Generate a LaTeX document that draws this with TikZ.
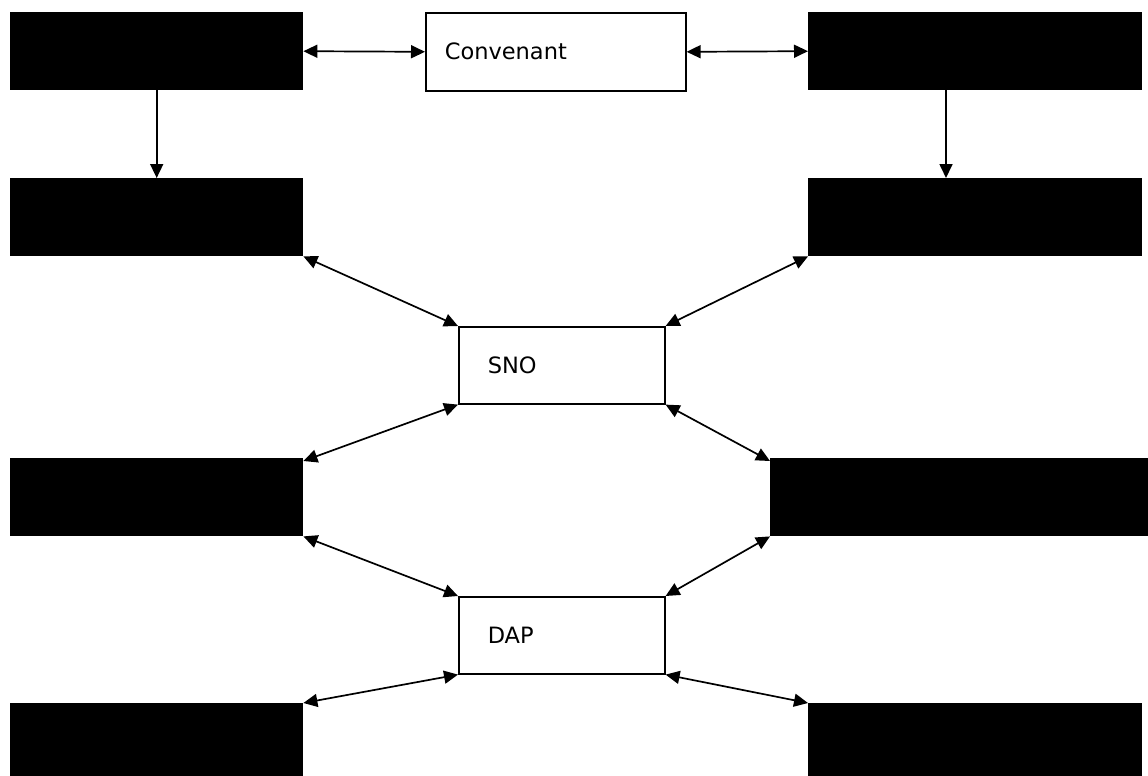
\documentclass[tikz,border=0pt]{standalone}
\usepackage{fontspec}
\setmainfont{DejaVu Sans}
\usetikzlibrary{positioning, arrows.meta}

\begin{document}
\begin{tikzpicture}[x=1pt,y=-1pt]
	\tikzset{
		party/.style={
				rectangle, fill=black, inner sep=0pt, anchor=north west,
				minimum height=78pt,
			},
		hub/.style={
				rectangle, draw, line width=1.6pt, anchor=north west,
				minimum height=77pt, align=left,
				font=\fontsize{22.5}{26}\selectfont,
			},
		rel/.style={
				<->, line width=1.7pt, >={Triangle[length=14pt,width=13pt]}, },
		flow/.style={
				->, line width=1.7pt, >={Triangle[length=14pt,width=13pt]}, },
	}
	\useasboundingbox (0,0) rectangle (1148,776);

	\node[party, minimum width=293pt] (tl) at (10,12) {};
	\node[hub, inner xsep=19pt, text width=222pt, minimum height=78pt] (conv) at (425,12) {Convenant};
	\node[party, minimum width=334pt] (tr) at (808,12) {};

	\node[party, minimum width=293pt] (l2) at (10,178) {};
	\node[party, minimum width=334pt] (r2) at (808,178) {};

	\node[hub, inner xsep=29pt, text width=148pt] (sno) at (458,326) {SNO};

	\node[party, minimum width=293pt] (l3) at (10,458) {};
	\node[party, minimum width=378pt] (r3) at (770,458) {};

	\node[hub, inner xsep=29pt, text width=148pt] (dap) at (458,596) {DAP};

	\node[party, minimum width=293pt, minimum height=73pt] (l4) at (10,703) {};
	\node[party, minimum width=334pt, minimum height=73pt] (r4) at (808,703) {};

	\draw[rel] (tl.east) -- (conv.west);
	\draw[rel] (conv.east) -- (tr.west);
	\draw[flow] (tl.south) -- (l2.north);
	\draw[flow] ([xshift=138pt]tr.south west) -- ([xshift=138pt]r2.north west);

	\draw[rel] (l2.south east) -- (sno.north west);
	\draw[rel] (r2.south west) -- (sno.north east);
	\draw[rel] (sno.south west) -- ([yshift=-3pt]l3.north east);
	\draw[rel] (sno.south east) -- ([yshift=-3pt]r3.north west);

	\draw[rel] (l3.south east) -- (dap.north west);
	\draw[rel] (r3.south west) -- (dap.north east);
	\draw[rel] (dap.south west) -- (l4.north east);
	\draw[rel] (dap.south east) -- (r4.north west);
\end{tikzpicture}
\end{document}
